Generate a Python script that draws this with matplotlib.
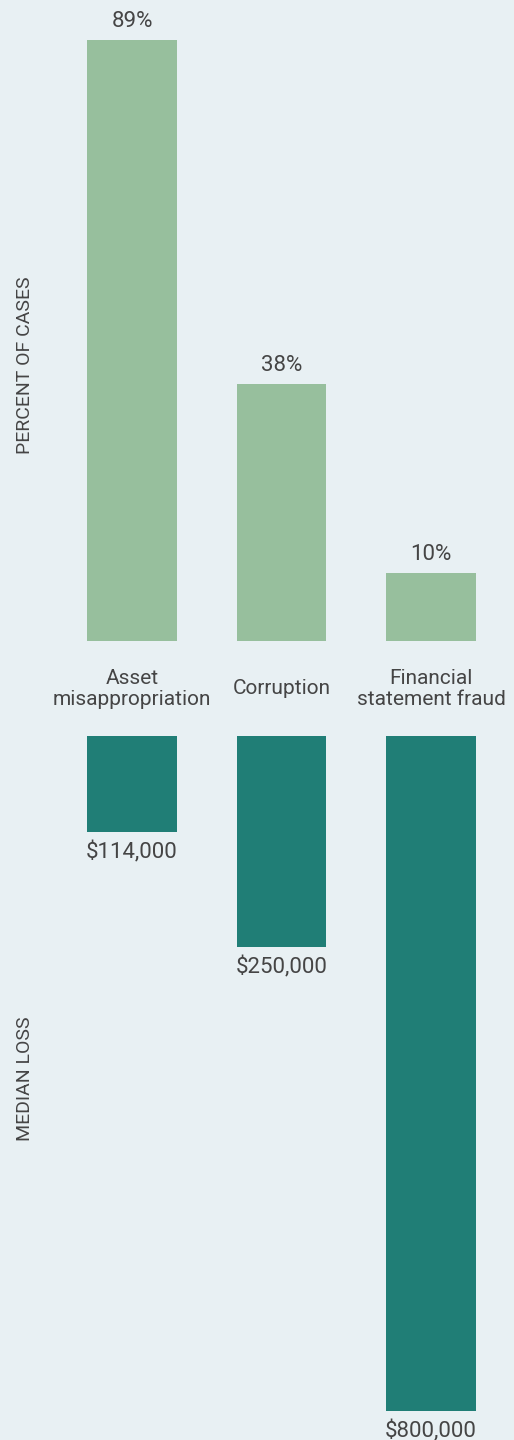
import matplotlib.pyplot as plt

# data
categories = ['Asset\nmisappropriation', 'Corruption', 'Financial\nstatement fraud']
pct_cases = [89, 38, 10]
pct_labels = ['89%', '38%', '10%']
median_loss = [114000, 250000, 800000]
loss_labels = ['$114,000', '$250,000', '$800,000']

plt.rcParams['font.family'] = ['Roboto', 'DejaVu Sans']

W, H = 514, 1440
bg = '#e8f0f3'
green = '#97bf9d'
teal = '#207e76'
txt = '#454545'

fig = plt.figure(figsize=(W / 100, H / 100), dpi=100)
fig.patch.set_facecolor(bg)

x = [0, 1, 2]
xlim = (-132 / 149.5, (W - 132) / 149.5)

# top panel: percent of cases (baseline at y=641px)
ax1 = fig.add_axes([0, (H - 641) / H, 1, 641 / H])
ax1.bar(x, pct_cases, width=0.602, color=green)
ax1.set_xlim(xlim)
ax1.set_ylim(0, 641 / 6.753)
ax1.axis('off')
for xi, v, lab in zip(x, pct_cases, pct_labels):
    ax1.annotate(lab, (xi, v), xytext=(0, 8), textcoords='offset pixels',
                 ha='center', va='bottom', fontsize=16, color=txt)
for xi, lab in zip(x, categories):
    ax1.annotate(lab, (xi, 0), xytext=(0, -48), textcoords='offset pixels',
                 ha='center', va='center', fontsize=15, color=txt,
                 linespacing=1.1, annotation_clip=False)

# bottom panel: median loss (bars hang from y=736px)
ax2 = fig.add_axes([0, 0, 1, (H - 736) / H])
ax2.bar(x, median_loss, width=0.602, color=teal)
ax2.set_xlim(xlim)
ax2.set_ylim((H - 736) / 0.00084375, 0)
ax2.axis('off')
for xi, v, lab in zip(x, median_loss, loss_labels):
    ax2.annotate(lab, (xi, v), xytext=(0, -9), textcoords='offset pixels',
                 ha='center', va='top', fontsize=16, color=txt,
                 annotation_clip=False)

fig.text(25 / W, 1 - 365 / H, 'PERCENT OF CASES', rotation=90,
         ha='center', va='center', fontsize=14, color=txt)
fig.text(25 / W, 1 - 1079 / H, 'MEDIAN LOSS', rotation=90,
         ha='center', va='center', fontsize=14, color=txt)

fig.savefig('out.png', dpi=100, facecolor=bg)
